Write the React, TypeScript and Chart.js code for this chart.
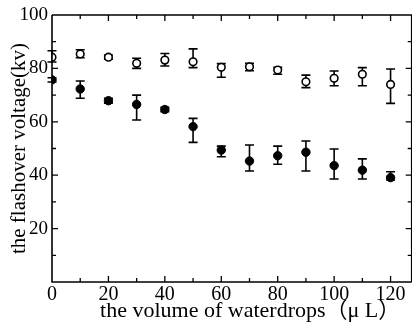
import React, { useEffect, useRef } from "react";
import { Chart, registerables } from "chart.js";

Chart.register(...registerables);

const xValues = [0, 10, 20, 30, 40, 50, 60, 70, 80, 90, 100, 110, 120];

const openMean = [84.2, 85.4, 84.2, 81.9, 83.1, 82.5, 80.4, 80.6, 79.4, 75.0, 76.3, 77.8, 74.0];
const openHigh = [86.6, 87.0, 85.0, 83.8, 85.6, 87.3, 81.8, 81.9, 80.4, 77.5, 79.0, 80.3, 79.8];
const openLow = [82.4, 84.0, 83.4, 80.0, 80.9, 80.3, 76.7, 79.1, 77.8, 72.8, 73.5, 73.5, 66.9];

const filledMean = [75.7, 72.3, 67.9, 66.5, 64.6, 58.2, 49.4, 45.3, 47.3, 48.6, 43.6, 41.9, 39.1];
const filledHigh = [76.5, 75.3, 68.8, 70.0, 65.4, 61.3, 50.9, 51.3, 50.9, 52.8, 49.8, 46.1, 41.3];
const filledLow = [74.9, 68.8, 67.0, 60.7, 63.8, 52.3, 46.9, 41.6, 44.1, 41.6, 38.6, 38.6, 38.2];

const xTitle = "the volume of waterdrops（μ L）";
const yTitle = "the flashover voltage(kv)";

const X_MIN = 0;
const X_MAX = 140.5;
const X_EDGE = 127.5;
const Y_MIN = 0;
const Y_MAX = 100;

const SERIF = "'Liberation Serif', 'Noto Sans CJK SC', 'DejaVu Serif', serif";

const frameAndErrors = {
  id: "frameAndErrors",
  beforeDatasetsDraw(chart: any) {
    const ctx = chart.ctx;
    const xs = chart.scales.x;
    const ys = chart.scales.y;
    ctx.save();
    ctx.strokeStyle = "#000";
    ctx.lineWidth = 1.6;
    const series = [
      { hi: openHigh, lo: openLow },
      { hi: filledHigh, lo: filledLow },
    ];
    for (const s of series) {
      for (let i = 0; i < xValues.length; i++) {
        const px = xs.getPixelForValue(xValues[i]);
        const ph = ys.getPixelForValue(s.hi[i]);
        const pl = ys.getPixelForValue(s.lo[i]);
        ctx.beginPath();
        ctx.moveTo(px, ph);
        ctx.lineTo(px, pl);
        ctx.moveTo(px - 4.5, ph);
        ctx.lineTo(px + 4.5, ph);
        ctx.moveTo(px - 4.5, pl);
        ctx.lineTo(px + 4.5, pl);
        ctx.stroke();
      }
    }
    ctx.restore();
  },
  afterDraw(chart: any) {
    const ctx = chart.ctx;
    const xs = chart.scales.x;
    const ys = chart.scales.y;
    const L = xs.getPixelForValue(X_MIN);
    const R = xs.getPixelForValue(X_EDGE);
    const T = ys.getPixelForValue(Y_MAX);
    const B = ys.getPixelForValue(Y_MIN);
    ctx.save();
    ctx.strokeStyle = "#000";
    ctx.lineWidth = 1.6;
    ctx.beginPath();
    ctx.moveTo(L, T);
    ctx.lineTo(L, B);
    ctx.lineTo(R, B);
    ctx.moveTo(L, T);
    ctx.lineTo(R, T);
    ctx.lineTo(R, B);
    ctx.stroke();
    ctx.lineWidth = 1.3;
    ctx.beginPath();
    for (let v = 10; v <= 120; v += 10) {
      const px = xs.getPixelForValue(v);
      const len = v % 20 === 0 ? 6 : 4;
      ctx.moveTo(px, B);
      ctx.lineTo(px, B - len);
      ctx.moveTo(px, T);
      ctx.lineTo(px, T + len);
    }
    for (let v = 10; v < 100; v += 10) {
      const py = ys.getPixelForValue(v);
      const len = v % 20 === 0 ? 6 : 4;
      ctx.moveTo(L, py);
      ctx.lineTo(L + len, py);
      ctx.moveTo(R, py);
      ctx.lineTo(R - len, py);
    }
    ctx.stroke();
    ctx.restore();
  },
};

export default function App() {
  const ref = useRef<HTMLCanvasElement | null>(null);

  useEffect(() => {
    if (!ref.current) return;
    const chart = new Chart(ref.current, {
      type: "scatter",
      data: {
        datasets: [
          {
            label: "open",
            data: xValues.map((x, i) => ({ x, y: openMean[i] })),
            pointStyle: "circle",
            pointRadius: 3.8,
            pointBackgroundColor: "#fff",
            pointBorderColor: "#000",
            pointBorderWidth: 1.6,
            showLine: false,
          },
          {
            label: "filled",
            data: xValues.map((x, i) => ({ x, y: filledMean[i] })),
            pointStyle: "circle",
            pointRadius: 4.2,
            pointBackgroundColor: "#000",
            pointBorderColor: "#000",
            pointBorderWidth: 1,
            showLine: false,
          },
        ],
      },
      options: {
        responsive: false,
        animation: false,
        devicePixelRatio: 1,
        layout: { padding: { top: 15, right: 0, left: 0, bottom: 0 } },
        plugins: {
          legend: { display: false },
          tooltip: { enabled: false },
        },
        scales: {
          x: {
            type: "linear",
            min: X_MIN,
            max: X_MAX,
            grid: { display: false, drawTicks: false },
            border: { display: false },
            ticks: {
              stepSize: 20,
              includeBounds: false,
              color: "#000",
              padding: 1,
              maxRotation: 0,
              font: { family: SERIF, size: 20 },
            },
            title: {
              display: true,
              text: xTitle,
              color: "#000",
              padding: { top: 0, bottom: 0 },
              font: { family: SERIF, size: 22 },
            },
            afterFit: (scale: any) => {
              scale.height = 42;
              scale.paddingLeft = 0;
              scale.paddingRight = 0;
            },
          },
          y: {
            type: "linear",
            min: Y_MIN,
            max: Y_MAX,
            grid: { display: false, drawTicks: false },
            border: { display: false },
            ticks: {
              stepSize: 20,
              color: "#000",
              padding: 4,
              font: { family: SERIF, size: 19 },
              callback: (v: any) => (v === 0 ? "" : String(v)),
            },
            title: {
              display: true,
              text: yTitle,
              color: "#000",
              padding: { top: 7, bottom: 0 },
              font: { family: SERIF, size: 21 },
            },
            afterFit: (scale: any) => {
              scale.width = 52;
              scale.paddingTop = 0;
              scale.paddingBottom = 0;
            },
          },
        },
      },
      plugins: [frameAndErrors],
    });
    return () => chart.destroy();
  }, []);

  return (
    <canvas
      ref={ref}
      width={454}
      height={324}
      style={{ position: "fixed", left: 0, top: 0, width: 454, height: 324, background: "#fff" }}
    />
  );
}
